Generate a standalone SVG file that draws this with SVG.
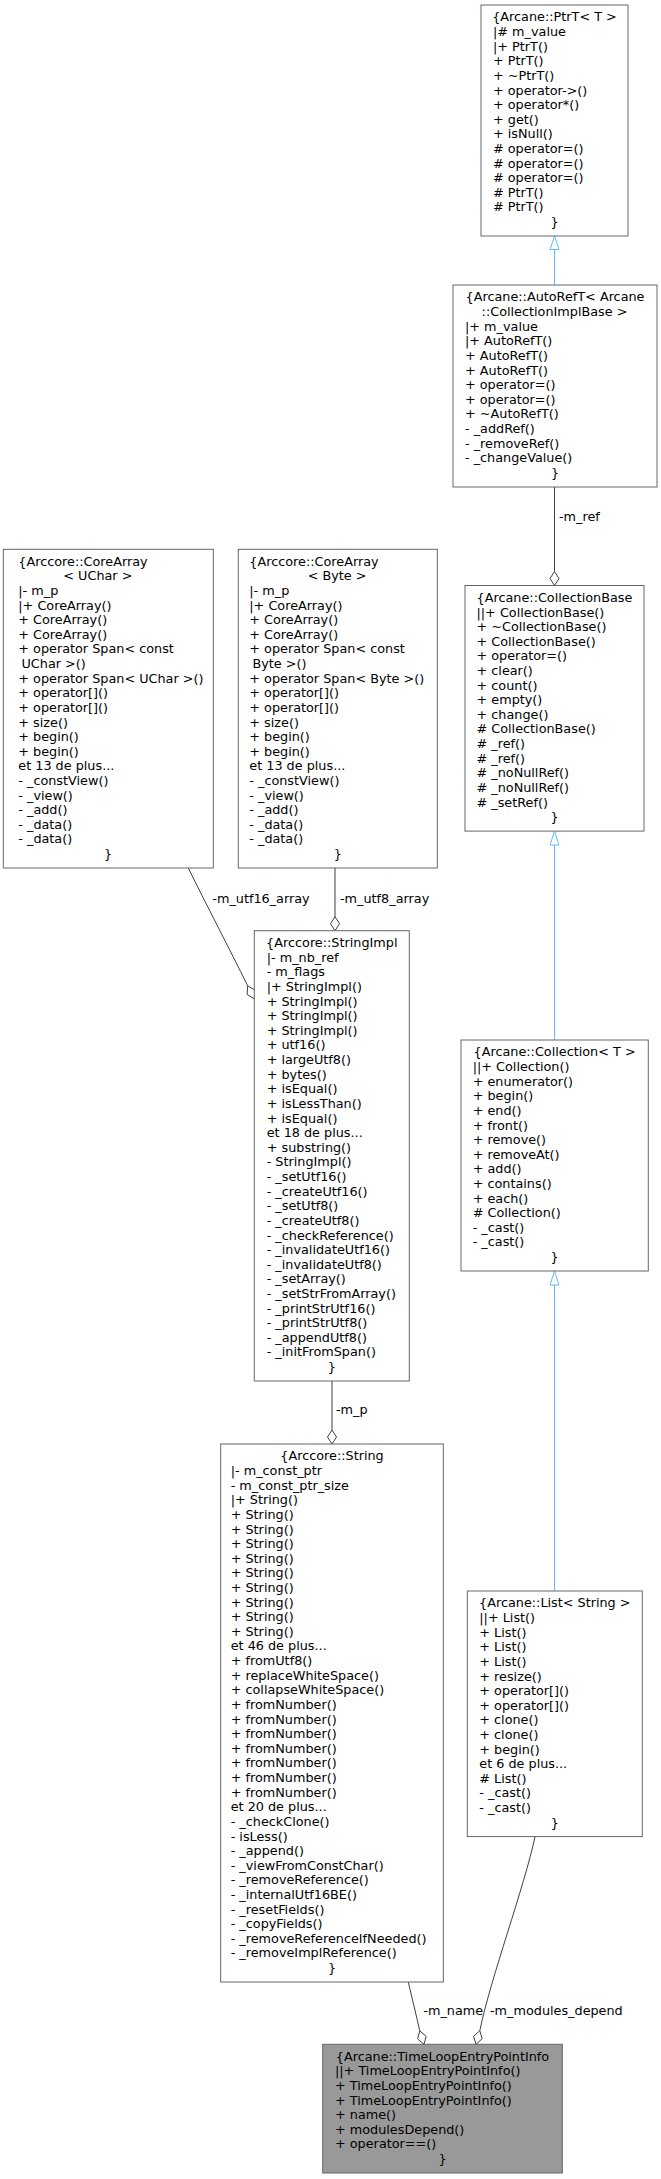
<svg xmlns="http://www.w3.org/2000/svg" width="661" height="2179" viewBox="0 0 661 2179">
<style>
.box{fill:#fff;stroke:#666;stroke-width:1}
.hl{fill:#999;stroke:#666;stroke-width:1}
text{font-family:"DejaVu Sans","Liberation Sans",sans-serif;font-size:12.8px;fill:#000}
.c{text-anchor:middle}
.use{fill:none;stroke:#404040;stroke-width:1}
.inh{fill:none;stroke:#63B8FF;stroke-width:1}
.dia{fill:#fff;stroke:#404040;stroke-width:1}
.tri{fill:#fff;stroke:#63B8FF;stroke-width:1}
</style>
<rect width="661" height="2179" fill="#fff"/>
<g id="connectors">
<path class="inh" d="M554.5,285 L554.5,249.5"/>
<polygon class="tri" points="554.5,236 550,249.5 559,249.5"/>
<path class="use" d="M554.5,487 L554.5,571.5"/>
<polygon class="dia" points="554.5,571.5 559,578.5 554.5,585.5 550,578.5"/>
<text x="559" y="521">-m_ref</text>
<path class="inh" d="M554.5,1040 L554.5,845"/>
<polygon class="tri" points="554.5,831 550,845 559,845"/>
<path class="inh" d="M554.5,1591 L554.5,1285"/>
<polygon class="tri" points="554.5,1271 550,1285 559,1285"/>
<path class="use" d="M188.3,868 C205,902 230,950 247.7,985.8"/>
<polygon class="dia" points="247.7,985.8 247.1,994.5 254.5,999 255.1,990.3"/>
<text x="212.3" y="903">-m_utf16_array</text>
<path class="use" d="M335,868 L335,916.7"/>
<polygon class="dia" points="335,916.7 339.5,923.7 335,930.7 330.5,923.7"/>
<text x="340" y="903">-m_utf8_array</text>
<path class="use" d="M332,1381 L332,1430"/>
<polygon class="dia" points="332,1430 336.5,1437 332,1444 327.5,1437"/>
<text x="336" y="1414">-m_p</text>
<path class="use" d="M408.3,1982 C412,1998 416,2014 419.8,2030.9"/>
<polygon class="dia" points="419.8,2030.9 417.6,2038.9 424,2044.3 426.2,2036.3"/>
<text x="423.3" y="2015">-m_name</text>
<path class="use" d="M535,1836.6 C525,1885 490,1980 479.8,2030.8"/>
<polygon class="dia" points="479.8,2030.8 482.2,2038.7 476,2044.3 473.6,2036.3"/>
<text x="490" y="2015">-m_modules_depend</text>
</g>
<g id="PtrT">
<rect class="box" x="481" y="5" width="147" height="231"/>
<text y="21.4"><tspan class="c" x="554.5">{Arcane::PtrT&lt; T &gt;</tspan><tspan x="493" dy="14.62">|# m_value</tspan><tspan x="493" dy="14.62">|+ PtrT()</tspan><tspan x="493" dy="14.62">+ PtrT()</tspan><tspan x="493" dy="14.62">+ ~PtrT()</tspan><tspan x="493" dy="14.62">+ operator-&gt;()</tspan><tspan x="493" dy="14.62">+ operator*()</tspan><tspan x="493" dy="14.62">+ get()</tspan><tspan x="493" dy="14.62">+ isNull()</tspan><tspan x="493" dy="14.62"># operator=()</tspan><tspan x="493" dy="14.62"># operator=()</tspan><tspan x="493" dy="14.62"># operator=()</tspan><tspan x="493" dy="14.62"># PtrT()</tspan><tspan x="493" dy="14.62"># PtrT()</tspan><tspan class="c" x="554.5" dy="14.62">}</tspan></text>
</g>
<g id="AutoRefT">
<rect class="box" x="453" y="285" width="204" height="202"/>
<text y="301.4"><tspan class="c" x="555">{Arcane::AutoRefT&lt; Arcane</tspan><tspan class="c" x="554.5" dy="14.62">::CollectionImplBase &gt;</tspan><tspan x="465" dy="14.62">|+ m_value</tspan><tspan x="465" dy="14.62">|+ AutoRefT()</tspan><tspan x="465" dy="14.62">+ AutoRefT()</tspan><tspan x="465" dy="14.62">+ AutoRefT()</tspan><tspan x="465" dy="14.62">+ operator=()</tspan><tspan x="465" dy="14.62">+ operator=()</tspan><tspan x="465" dy="14.62">+ ~AutoRefT()</tspan><tspan x="465" dy="14.62">- _addRef()</tspan><tspan x="465" dy="14.62">- _removeRef()</tspan><tspan x="465" dy="14.62">- _changeValue()</tspan><tspan class="c" x="555" dy="14.62">}</tspan></text>
</g>
<g id="CollectionBase">
<rect class="box" x="465" y="585.5" width="179" height="245.6"/>
<text y="601.9"><tspan class="c" x="554.5">{Arcane::CollectionBase</tspan><tspan x="476.5" dy="14.62">||+ CollectionBase()</tspan><tspan x="476.5" dy="14.62">+ ~CollectionBase()</tspan><tspan x="476.5" dy="14.62">+ CollectionBase()</tspan><tspan x="476.5" dy="14.62">+ operator=()</tspan><tspan x="476.5" dy="14.62">+ clear()</tspan><tspan x="476.5" dy="14.62">+ count()</tspan><tspan x="476.5" dy="14.62">+ empty()</tspan><tspan x="476.5" dy="14.62">+ change()</tspan><tspan x="476.5" dy="14.62"># CollectionBase()</tspan><tspan x="476.5" dy="14.62"># _ref()</tspan><tspan x="476.5" dy="14.62"># _ref()</tspan><tspan x="476.5" dy="14.62"># _noNullRef()</tspan><tspan x="476.5" dy="14.62"># _noNullRef()</tspan><tspan x="476.5" dy="14.62"># _setRef()</tspan><tspan class="c" x="554.5" dy="14.62">}</tspan></text>
</g>
<g id="CoreArrayUChar">
<rect class="box" x="3.3" y="549.3" width="210" height="318.7"/>
<text y="565.7"><tspan x="18.3">{Arccore::CoreArray</tspan><tspan x="63.3" dy="14.62">&lt; UChar &gt;</tspan><tspan x="18.3" dy="14.62">|- m_p</tspan><tspan x="18.3" dy="14.62">|+ CoreArray()</tspan><tspan x="18.3" dy="14.62">+ CoreArray()</tspan><tspan x="18.3" dy="14.62">+ CoreArray()</tspan><tspan x="18.3" dy="14.62">+ operator Span&lt; const</tspan><tspan x="21.5" dy="14.62">UChar &gt;()</tspan><tspan x="18.3" dy="14.62">+ operator Span&lt; UChar &gt;()</tspan><tspan x="18.3" dy="14.62">+ operator[]()</tspan><tspan x="18.3" dy="14.62">+ operator[]()</tspan><tspan x="18.3" dy="14.62">+ size()</tspan><tspan x="18.3" dy="14.62">+ begin()</tspan><tspan x="18.3" dy="14.62">+ begin()</tspan><tspan x="18.3" dy="14.62">et 13 de plus...</tspan><tspan x="18.3" dy="14.62">- _constView()</tspan><tspan x="18.3" dy="14.62">- _view()</tspan><tspan x="18.3" dy="14.62">- _add()</tspan><tspan x="18.3" dy="14.62">- _data()</tspan><tspan x="18.3" dy="14.62">- _data()</tspan><tspan class="c" x="108" dy="14.62">}</tspan></text>
</g>
<g id="CoreArrayByte">
<rect class="box" x="238.3" y="549.3" width="199" height="318.7"/>
<text y="565.7"><tspan x="249.3">{Arccore::CoreArray</tspan><tspan x="307.7" dy="14.62">&lt; Byte &gt;</tspan><tspan x="249.3" dy="14.62">|- m_p</tspan><tspan x="249.3" dy="14.62">|+ CoreArray()</tspan><tspan x="249.3" dy="14.62">+ CoreArray()</tspan><tspan x="249.3" dy="14.62">+ CoreArray()</tspan><tspan x="249.3" dy="14.62">+ operator Span&lt; const</tspan><tspan x="252.5" dy="14.62">Byte &gt;()</tspan><tspan x="249.3" dy="14.62">+ operator Span&lt; Byte &gt;()</tspan><tspan x="249.3" dy="14.62">+ operator[]()</tspan><tspan x="249.3" dy="14.62">+ operator[]()</tspan><tspan x="249.3" dy="14.62">+ size()</tspan><tspan x="249.3" dy="14.62">+ begin()</tspan><tspan x="249.3" dy="14.62">+ begin()</tspan><tspan x="249.3" dy="14.62">et 13 de plus...</tspan><tspan x="249.3" dy="14.62">- _constView()</tspan><tspan x="249.3" dy="14.62">- _view()</tspan><tspan x="249.3" dy="14.62">- _add()</tspan><tspan x="249.3" dy="14.62">- _data()</tspan><tspan x="249.3" dy="14.62">- _data()</tspan><tspan class="c" x="337.8" dy="14.62">}</tspan></text>
</g>
<g id="StringImpl">
<rect class="box" x="254.3" y="930.7" width="155" height="450.3"/>
<text y="947.1"><tspan class="c" x="331.8">{Arccore::StringImpl</tspan><tspan x="266.7" dy="14.62">|- m_nb_ref</tspan><tspan x="266.7" dy="14.62">- m_flags</tspan><tspan x="266.7" dy="14.62">|+ StringImpl()</tspan><tspan x="266.7" dy="14.62">+ StringImpl()</tspan><tspan x="266.7" dy="14.62">+ StringImpl()</tspan><tspan x="266.7" dy="14.62">+ StringImpl()</tspan><tspan x="266.7" dy="14.62">+ utf16()</tspan><tspan x="266.7" dy="14.62">+ largeUtf8()</tspan><tspan x="266.7" dy="14.62">+ bytes()</tspan><tspan x="266.7" dy="14.62">+ isEqual()</tspan><tspan x="266.7" dy="14.62">+ isLessThan()</tspan><tspan x="266.7" dy="14.62">+ isEqual()</tspan><tspan x="266.7" dy="14.62">et 18 de plus...</tspan><tspan x="266.7" dy="14.62">+ substring()</tspan><tspan x="266.7" dy="14.62">- StringImpl()</tspan><tspan x="266.7" dy="14.62">- _setUtf16()</tspan><tspan x="266.7" dy="14.62">- _createUtf16()</tspan><tspan x="266.7" dy="14.62">- _setUtf8()</tspan><tspan x="266.7" dy="14.62">- _createUtf8()</tspan><tspan x="266.7" dy="14.62">- _checkReference()</tspan><tspan x="266.7" dy="14.62">- _invalidateUtf16()</tspan><tspan x="266.7" dy="14.62">- _invalidateUtf8()</tspan><tspan x="266.7" dy="14.62">- _setArray()</tspan><tspan x="266.7" dy="14.62">- _setStrFromArray()</tspan><tspan x="266.7" dy="14.62">- _printStrUtf16()</tspan><tspan x="266.7" dy="14.62">- _printStrUtf8()</tspan><tspan x="266.7" dy="14.62">- _appendUtf8()</tspan><tspan x="266.7" dy="14.62">- _initFromSpan()</tspan><tspan class="c" x="331.8" dy="14.62">}</tspan></text>
</g>
<g id="String">
<rect class="box" x="220.7" y="1444" width="222.6" height="538"/>
<text y="1460.4"><tspan class="c" x="332">{Arccore::String</tspan><tspan x="230.7" dy="14.62">|- m_const_ptr</tspan><tspan x="230.7" dy="14.62">- m_const_ptr_size</tspan><tspan x="230.7" dy="14.62">|+ String()</tspan><tspan x="230.7" dy="14.62">+ String()</tspan><tspan x="230.7" dy="14.62">+ String()</tspan><tspan x="230.7" dy="14.62">+ String()</tspan><tspan x="230.7" dy="14.62">+ String()</tspan><tspan x="230.7" dy="14.62">+ String()</tspan><tspan x="230.7" dy="14.62">+ String()</tspan><tspan x="230.7" dy="14.62">+ String()</tspan><tspan x="230.7" dy="14.62">+ String()</tspan><tspan x="230.7" dy="14.62">+ String()</tspan><tspan x="230.7" dy="14.62">et 46 de plus...</tspan><tspan x="230.7" dy="14.62">+ fromUtf8()</tspan><tspan x="230.7" dy="14.62">+ replaceWhiteSpace()</tspan><tspan x="230.7" dy="14.62">+ collapseWhiteSpace()</tspan><tspan x="230.7" dy="14.62">+ fromNumber()</tspan><tspan x="230.7" dy="14.62">+ fromNumber()</tspan><tspan x="230.7" dy="14.62">+ fromNumber()</tspan><tspan x="230.7" dy="14.62">+ fromNumber()</tspan><tspan x="230.7" dy="14.62">+ fromNumber()</tspan><tspan x="230.7" dy="14.62">+ fromNumber()</tspan><tspan x="230.7" dy="14.62">+ fromNumber()</tspan><tspan x="230.7" dy="14.62">et 20 de plus...</tspan><tspan x="230.7" dy="14.62">- _checkClone()</tspan><tspan x="230.7" dy="14.62">- isLess()</tspan><tspan x="230.7" dy="14.62">- _append()</tspan><tspan x="230.7" dy="14.62">- _viewFromConstChar()</tspan><tspan x="230.7" dy="14.62">- _removeReference()</tspan><tspan x="230.7" dy="14.62">- _internalUtf16BE()</tspan><tspan x="230.7" dy="14.62">- _resetFields()</tspan><tspan x="230.7" dy="14.62">- _copyFields()</tspan><tspan x="230.7" dy="14.62">- _removeReferenceIfNeeded()</tspan><tspan x="230.7" dy="14.62">- _removeImplReference()</tspan><tspan class="c" x="332" dy="14.62">}</tspan></text>
</g>
<g id="Collection">
<rect class="box" x="461" y="1040" width="187.3" height="231"/>
<text y="1056.4"><tspan class="c" x="554.6">{Arcane::Collection&lt; T &gt;</tspan><tspan x="472.7" dy="14.62">||+ Collection()</tspan><tspan x="472.7" dy="14.62">+ enumerator()</tspan><tspan x="472.7" dy="14.62">+ begin()</tspan><tspan x="472.7" dy="14.62">+ end()</tspan><tspan x="472.7" dy="14.62">+ front()</tspan><tspan x="472.7" dy="14.62">+ remove()</tspan><tspan x="472.7" dy="14.62">+ removeAt()</tspan><tspan x="472.7" dy="14.62">+ add()</tspan><tspan x="472.7" dy="14.62">+ contains()</tspan><tspan x="472.7" dy="14.62">+ each()</tspan><tspan x="472.7" dy="14.62"># Collection()</tspan><tspan x="472.7" dy="14.62">- _cast()</tspan><tspan x="472.7" dy="14.62">- _cast()</tspan><tspan class="c" x="554.6" dy="14.62">}</tspan></text>
</g>
<g id="List">
<rect class="box" x="467.3" y="1591" width="175" height="245.6"/>
<text y="1607.4"><tspan class="c" x="554.8">{Arcane::List&lt; String &gt;</tspan><tspan x="479.3" dy="14.62">||+ List()</tspan><tspan x="479.3" dy="14.62">+ List()</tspan><tspan x="479.3" dy="14.62">+ List()</tspan><tspan x="479.3" dy="14.62">+ List()</tspan><tspan x="479.3" dy="14.62">+ resize()</tspan><tspan x="479.3" dy="14.62">+ operator[]()</tspan><tspan x="479.3" dy="14.62">+ operator[]()</tspan><tspan x="479.3" dy="14.62">+ clone()</tspan><tspan x="479.3" dy="14.62">+ clone()</tspan><tspan x="479.3" dy="14.62">+ begin()</tspan><tspan x="479.3" dy="14.62">et 6 de plus...</tspan><tspan x="479.3" dy="14.62"># List()</tspan><tspan x="479.3" dy="14.62">- _cast()</tspan><tspan x="479.3" dy="14.62">- _cast()</tspan><tspan class="c" x="554.8" dy="14.62">}</tspan></text>
</g>
<g id="TimeLoopEntryPointInfo">
<rect class="hl" x="322.7" y="2044.3" width="239.6" height="128.7"/>
<text y="2060.7"><tspan class="c" x="442.5">{Arcane::TimeLoopEntryPointInfo</tspan><tspan x="335" dy="14.62">||+ TimeLoopEntryPointInfo()</tspan><tspan x="335" dy="14.62">+ TimeLoopEntryPointInfo()</tspan><tspan x="335" dy="14.62">+ TimeLoopEntryPointInfo()</tspan><tspan x="335" dy="14.62">+ name()</tspan><tspan x="335" dy="14.62">+ modulesDepend()</tspan><tspan x="335" dy="14.62">+ operator==()</tspan><tspan class="c" x="442.5" dy="14.62">}</tspan></text>
</g>
</svg>
